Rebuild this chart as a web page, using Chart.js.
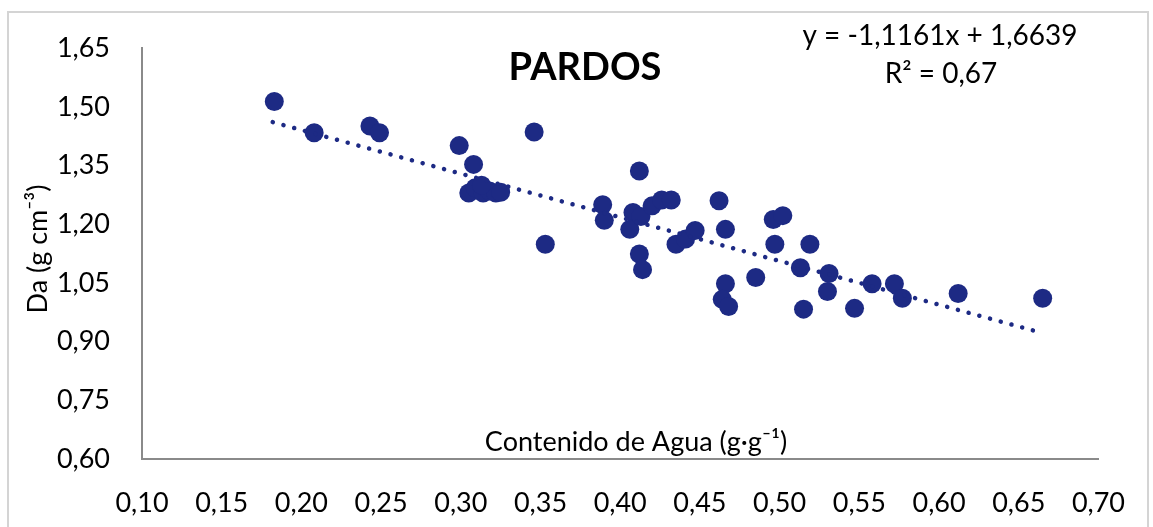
<!DOCTYPE html>
<html><head><meta charset="utf-8">
<script src="https://cdn.jsdelivr.net/npm/chart.js@4/dist/chart.umd.min.js"></script>
<style>html,body{margin:0;padding:0;background:#fff}#wrap{width:1153px;height:527px;position:relative}</style>
</head><body><div id="wrap"><canvas id="c" width="1153" height="527"></canvas></div>
<script>
// Data
const waterContent = [0.183,0.208,0.243,0.249,0.299,0.308,0.305,0.309,0.314,0.318,0.322,0.325,0.313,0.346,0.353,0.412,0.389,0.390,0.408,0.406,0.413,0.420,0.426,0.432,0.435,0.441,0.447,0.412,0.414,0.462,0.466,0.466,0.464,0.468,0.496,0.502,0.497,0.519,0.485,0.513,0.531,0.530,0.515,0.547,0.558,0.572,0.577,0.612,0.665];
const bulkDensity  = [1.514,1.434,1.451,1.434,1.401,1.353,1.280,1.293,1.280,1.285,1.280,1.282,1.300,1.436,1.149,1.336,1.250,1.210,1.230,1.187,1.220,1.247,1.262,1.262,1.149,1.162,1.184,1.124,1.084,1.260,1.187,1.048,1.008,0.990,1.212,1.222,1.149,1.149,1.064,1.089,1.074,1.028,0.983,0.985,1.048,1.048,1.011,1.023,1.011];
const trendX = [0.182, 0.664];
const trendY = [1.461, 0.923];
const xTicks = [0.10,0.15,0.20,0.25,0.30,0.35,0.40,0.45,0.50,0.55,0.60,0.65,0.70];
const yTicks = [0.60,0.75,0.90,1.05,1.20,1.35,1.50,1.65];
const chartTitle = 'PARDOS';
const equationLines = ['y = -1,1161x + 1,6639', 'R² = 0,67'];
const xTitle = 'Contenido de Agua (g·g⁻¹)';
const yTitle = 'Da (g cm⁻³)';

const NAVY = '#1d2a84';
const FONT = 'Lato, "Open Sans", sans-serif';
const TEXT = '#000000';
const fmt = v => Number(v).toFixed(2).replace('.', ',');

const annot = {
  id: 'annot',
  beforeDraw(chart) {
    const ctx = chart.ctx;
    ctx.save();
    ctx.fillStyle = '#ffffff';
    ctx.fillRect(0, 0, chart.width, chart.height);
    ctx.strokeStyle = '#d4d4d4';
    ctx.lineWidth = 2;
    ctx.strokeRect(8, 12, 1140, 540);
    ctx.restore();
  },
  afterDraw(chart) {
    const ctx = chart.ctx;
    ctx.save();
    ctx.fillStyle = TEXT;
    ctx.textAlign = 'center';
    ctx.textBaseline = 'middle';
    ctx.font = 'bold 38px ' + FONT;
    ctx.fillText(chartTitle, 585, 68);
    ctx.font = '28px ' + FONT;
    ctx.fillText(equationLines[0], 940, 36);
    ctx.fillText(equationLines[1], 941, 74);
    ctx.font = '27px ' + FONT;
    ctx.fillText(xTitle, 636, 442);
    ctx.translate(38, 249);
    ctx.rotate(-Math.PI / 2);
    ctx.fillText(yTitle, 0, 0);
    ctx.restore();
  }
};

new Chart(document.getElementById('c'), {
  type: 'scatter',
  data: {
    datasets: [
      {
        type: 'line',
        data: trendX.map((x, i) => ({x, y: trendY[i]})),
        borderColor: NAVY,
        borderWidth: 4.5,
        borderDash: [0.1, 11],
        borderCapStyle: 'round',
        pointRadius: 0,
        fill: false,
        order: 0
      },
      {
        data: waterContent.map((x, i) => ({x, y: bulkDensity[i]})),
        backgroundColor: NAVY,
        borderWidth: 0,
        pointRadius: 9.5,
        order: 1
      }
    ]
  },
  options: {
    responsive: false,
    devicePixelRatio: 1,
    animation: false,
    layout: {padding: {left: 0, top: 43, right: 42, bottom: 0}},
    plugins: {legend: {display: false}, tooltip: {enabled: false}, title: {display: false}},
    scales: {
      x: {
        type: 'linear', min: 0.10, max: 0.70,
        afterBuildTicks: s => { s.ticks = xTicks.map(v => ({value: v})); },
        afterFit: s => { s.height = 68; },
        ticks: {callback: v => fmt(v), font: {family: FONT, size: 27}, color: TEXT, padding: 28, maxRotation: 0, autoSkip: false},
        grid: {display: false, drawTicks: false},
        border: {display: true, color: '#8a8a8a', width: 2}
      },
      y: {
        type: 'linear', min: 0.60, max: 1.65,
        afterBuildTicks: s => { s.ticks = yTicks.map(v => ({value: v})); },
        afterFit: s => { s.width = 142; },
        ticks: {callback: v => fmt(v), font: {family: FONT, size: 27}, color: TEXT, padding: 32, autoSkip: false},
        grid: {display: false, drawTicks: false},
        border: {display: true, color: '#8a8a8a', width: 2}
      }
    }
  },
  plugins: [annot]
});
</script></body></html>
